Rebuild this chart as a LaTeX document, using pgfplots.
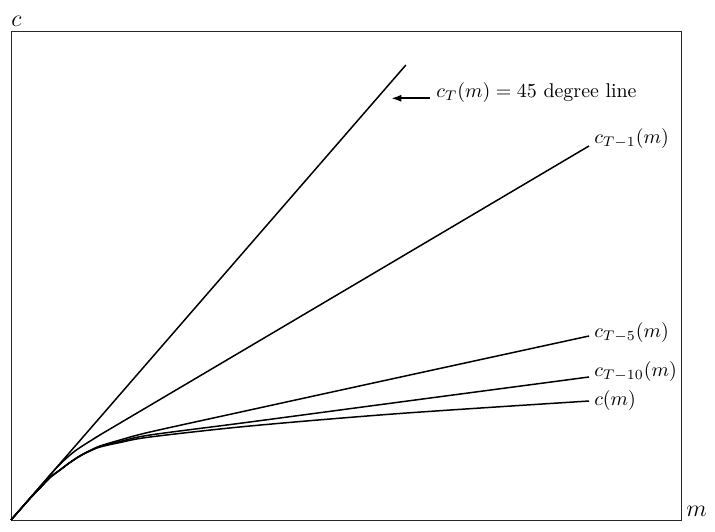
\documentclass[border=0pt]{standalone}
\usepackage{pgfplots}
\pgfplotsset{compat=1.18}
\usetikzlibrary{arrows.meta}
\begin{document}
\begin{tikzpicture}
\begin{axis}[name=ax, scale only axis, width=335bp, height=244.5bp,
  xmin=0, xmax=17, ymin=0, ymax=10.747,
  xtick=\empty, ytick=\empty, clip=false,
  axis line style={line width=0.45pt, black!85}]
% 45 degree line c_T(m)
\addplot[black, line width=0.75pt] coordinates {(0,0) (10.02,10.0)};
% c_{T-1}(m)
\addplot[black, line width=0.75pt, smooth] coordinates {(0,0) (0.482,0.481) (0.863,0.859) (1.116,1.110) (1.370,1.330) (1.624,1.516) (1.878,1.664) (2.258,1.868) (2.469,1.978) (7.333,4.466) (14.666,8.220)};
% c_{T-5}(m)
\addplot[black, line width=0.75pt, smooth] coordinates {(0,0) (0.482,0.473) (0.736,0.703) (0.990,0.934) (1.243,1.099) (1.497,1.264) (1.751,1.411) (2.005,1.527) (2.258,1.626) (2.766,1.758) (3.527,1.934) (6.064,2.418) (9.541,3.077) (14.666,4.044)};
% c_{T-10}(m)
\addplot[black, line width=0.75pt, smooth] coordinates {(0,0) (0.482,0.473) (0.736,0.703) (0.990,0.934) (1.243,1.099) (1.497,1.264) (1.751,1.407) (2.005,1.521) (2.258,1.615) (2.766,1.725) (3.527,1.868) (6.064,2.154) (9.871,2.593) (14.666,3.143)};
% c(m)
\addplot[black, line width=0.75pt, smooth] coordinates {(0,0) (0.482,0.473) (0.736,0.703) (0.990,0.934) (1.243,1.099) (1.497,1.264) (1.751,1.407) (2.005,1.516) (2.258,1.604) (2.766,1.703) (3.527,1.824) (6.064,2.066) (9.871,2.341) (14.666,2.615)};
\node[anchor=base west, inner sep=0] at (axis cs:10.78,9.279) {$c_T(m) = 45$ degree line};
\draw[-{Latex[length=5bp,width=3.6bp]}, line width=0.9pt] (axis cs:10.63,9.268) -- (axis cs:9.65,9.268);
\node[anchor=base west, inner sep=0] at (axis cs:14.79,8.27) {$c_{T-1}(m)$};
\node[anchor=base west, inner sep=0] at (axis cs:14.79,4.0) {$c_{T-5}(m)$};
\node[anchor=base west, inner sep=0] at (axis cs:14.79,3.158) {$c_{T-10}(m)$};
\node[anchor=base west, inner sep=0] at (axis cs:14.79,2.527) {$c(m)$};
\end{axis}
\node[anchor=base west, inner sep=0, font=\large] at ([yshift=2.2bp]ax.north west) {$c$};
\node[anchor=base west, inner sep=0, font=\large] at ([xshift=2.5bp,yshift=1.65bp]ax.south east) {$m$};
\pgfresetboundingbox
\path[use as bounding box] ([xshift=-5.5bp,yshift=-6bp]ax.south west) rectangle ([xshift=17bp,yshift=15.5bp]ax.north east);
\end{tikzpicture}
\end{document}
